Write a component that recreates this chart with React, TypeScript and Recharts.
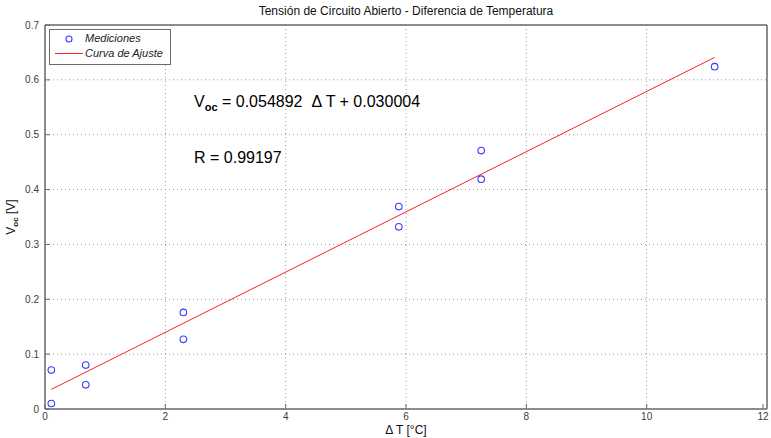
import { ComposedChart, Scatter, Line, XAxis, YAxis, CartesianGrid, ReferenceArea } from 'recharts';

// measured points: temperature difference [°C] and open-circuit voltage [V]
const deltaT = [0.105, 0.105, 0.677, 0.677, 2.3, 2.3, 5.88, 5.88, 7.25, 7.25, 11.13];
const vocMeasured = [0.071, 0.010, 0.080, 0.044, 0.176, 0.127, 0.369, 0.332, 0.471, 0.419, 0.624];

// least-squares fit, as printed on the plot
const slope = 0.054892;
const intercept = 0.030004;
const rValue = 0.99197;
const fitRange = [0.105, 11.13];

const xTicks = [0, 2, 4, 6, 8, 10, 12];
const yTicks = [0, 0.1, 0.2, 0.3, 0.4, 0.5, 0.6, 0.7];

const W = 771;
const H = 438;
const FONT = '"Liberation Sans", Arial, sans-serif';
const AXIS = '#6b6b6b';
const LABEL = '#3c3c3c';
const FIT_RED = '#ff2020';

const points = deltaT.map((x, i) => ({ x, y: vocMeasured[i] }));
const fitLine = fitRange.map(x => ({ x, y: slope * x + intercept }));

const fmtY = (v: number) => (v === 0 ? '0' : v.toFixed(1));

function BottomTick({ x, y, payload }: any) {
    return (
        <g>
            <line x1={x} y1={y} x2={x} y2={y - 5} stroke={AXIS} />
            <text x={x} y={y + 11} textAnchor="middle" fontSize={10} fill={LABEL} fontFamily={FONT}>{payload.value}</text>
        </g>
    );
}

function LeftTick({ x, y, payload }: any) {
    return (
        <g>
            <line x1={x} y1={y} x2={x + 5} y2={y} stroke={AXIS} />
            <text x={x - 6} y={y + 3.5} textAnchor="end" fontSize={10} fill={LABEL} fontFamily={FONT}>{fmtY(payload.value)}</text>
        </g>
    );
}

function TopTick({ x, y }: any) {
    return <line x1={x} y1={y} x2={x} y2={y + 5} stroke={AXIS} />;
}

function RightTick({ x, y }: any) {
    return <line x1={x} y1={y} x2={x - 5} y2={y} stroke={AXIS} />;
}

function Ring({ cx, cy }: any) {
    return <circle cx={cx} cy={cy} r={3.3} fill="none" stroke="#3b3bff" strokeWidth={1.1} />;
}

export default function App() {
    return (
        <div style={{ position: 'absolute', left: 0, top: 0, width: W, height: H, background: '#fff', fontFamily: FONT }}>
            <ComposedChart width={W} height={H} margin={{ top: 24, right: 3, bottom: 0, left: 0 }}>
                <CartesianGrid xAxisId="b" yAxisId="l" stroke="#9a9a9a" strokeDasharray="1 3" />
                <XAxis xAxisId="b" type="number" dataKey="x" domain={[0, 12]} ticks={xTicks} height={29}
                    axisLine={{ stroke: AXIS }} tickLine={false} tickSize={0} tickMargin={0} tick={<BottomTick />} />
                <XAxis xAxisId="t" orientation="top" type="number" dataKey="x" domain={[0, 12]} ticks={xTicks} height={1}
                    axisLine={{ stroke: AXIS }} tickLine={false} tickSize={0} tickMargin={0} tick={<TopTick />} />
                <YAxis yAxisId="l" type="number" dataKey="y" domain={[0, 0.7]} ticks={yTicks} width={45}
                    axisLine={{ stroke: AXIS }} tickLine={false} tickSize={0} tickMargin={0} tick={<LeftTick />} />
                <YAxis yAxisId="r" orientation="right" type="number" dataKey="y" domain={[0, 0.7]} ticks={yTicks} width={1}
                    axisLine={{ stroke: AXIS }} tickLine={false} tickSize={0} tickMargin={0} tick={<RightTick />} />
                <ReferenceArea xAxisId="b" yAxisId="l" x1={0} x2={12} y1={0} y2={0.7} fill="none" stroke={AXIS} ifOverflow="visible" />
                <Line xAxisId="b" yAxisId="l" data={fitLine} dataKey="y" type="linear" stroke={FIT_RED} strokeWidth={1}
                    dot={false} activeDot={false} isAnimationActive={false} />
                <Scatter xAxisId="b" yAxisId="l" data={points} dataKey="y" shape={<Ring />} isAnimationActive={false} />
            </ComposedChart>

            <div style={{ position: 'absolute', left: 45, width: 722, top: 4, textAlign: 'center', fontSize: 12, color: '#111' }}>
                Tensión de Circuito Abierto - Diferencia de Temperatura
            </div>

            <div style={{ position: 'absolute', left: 45, width: 722, top: 423, textAlign: 'center', fontSize: 12, color: '#111' }}>
                Δ T [°C]
            </div>

            <div style={{ position: 'absolute', left: 12, top: 217, transform: 'translate(-50%, -50%) rotate(-90deg)', whiteSpace: 'nowrap', fontSize: 12, color: '#111' }}>
                V<sub style={{ fontSize: 8, fontWeight: 'bold' }}>oc</sub> [V]
            </div>

            {/* legend box, top-left inside the plot */}
            <div style={{ position: 'absolute', left: 49, top: 29, width: 120, height: 34, border: '1px solid #6b6b6b', background: '#fff', fontSize: 11, fontStyle: 'italic', color: '#222' }}>
                <svg width={36} height={34} style={{ position: 'absolute', left: 0, top: 0 }}>
                    <circle cx={19} cy={9} r={3} fill="none" stroke="#3b3bff" strokeWidth={1.1} />
                    <rect x={5} y={23} width={28} height={1} fill={FIT_RED} />
                </svg>
                <div style={{ position: 'absolute', left: 35, top: 2 }}>Mediciones</div>
                <div style={{ position: 'absolute', left: 35, top: 17 }}>Curva de Ajuste</div>
            </div>

            <div style={{ position: 'absolute', left: 194, top: 93, fontSize: 16, color: '#000', whiteSpace: 'nowrap' }}>
                V<sub style={{ fontSize: 11, fontWeight: 'bold' }}>oc</sub> = {slope.toFixed(6)}&nbsp; Δ T + {intercept.toFixed(6)}
            </div>
            <div style={{ position: 'absolute', left: 194, top: 149, fontSize: 16, color: '#000' }}>
                R = {rValue.toFixed(5)}
            </div>
        </div>
    );
}
